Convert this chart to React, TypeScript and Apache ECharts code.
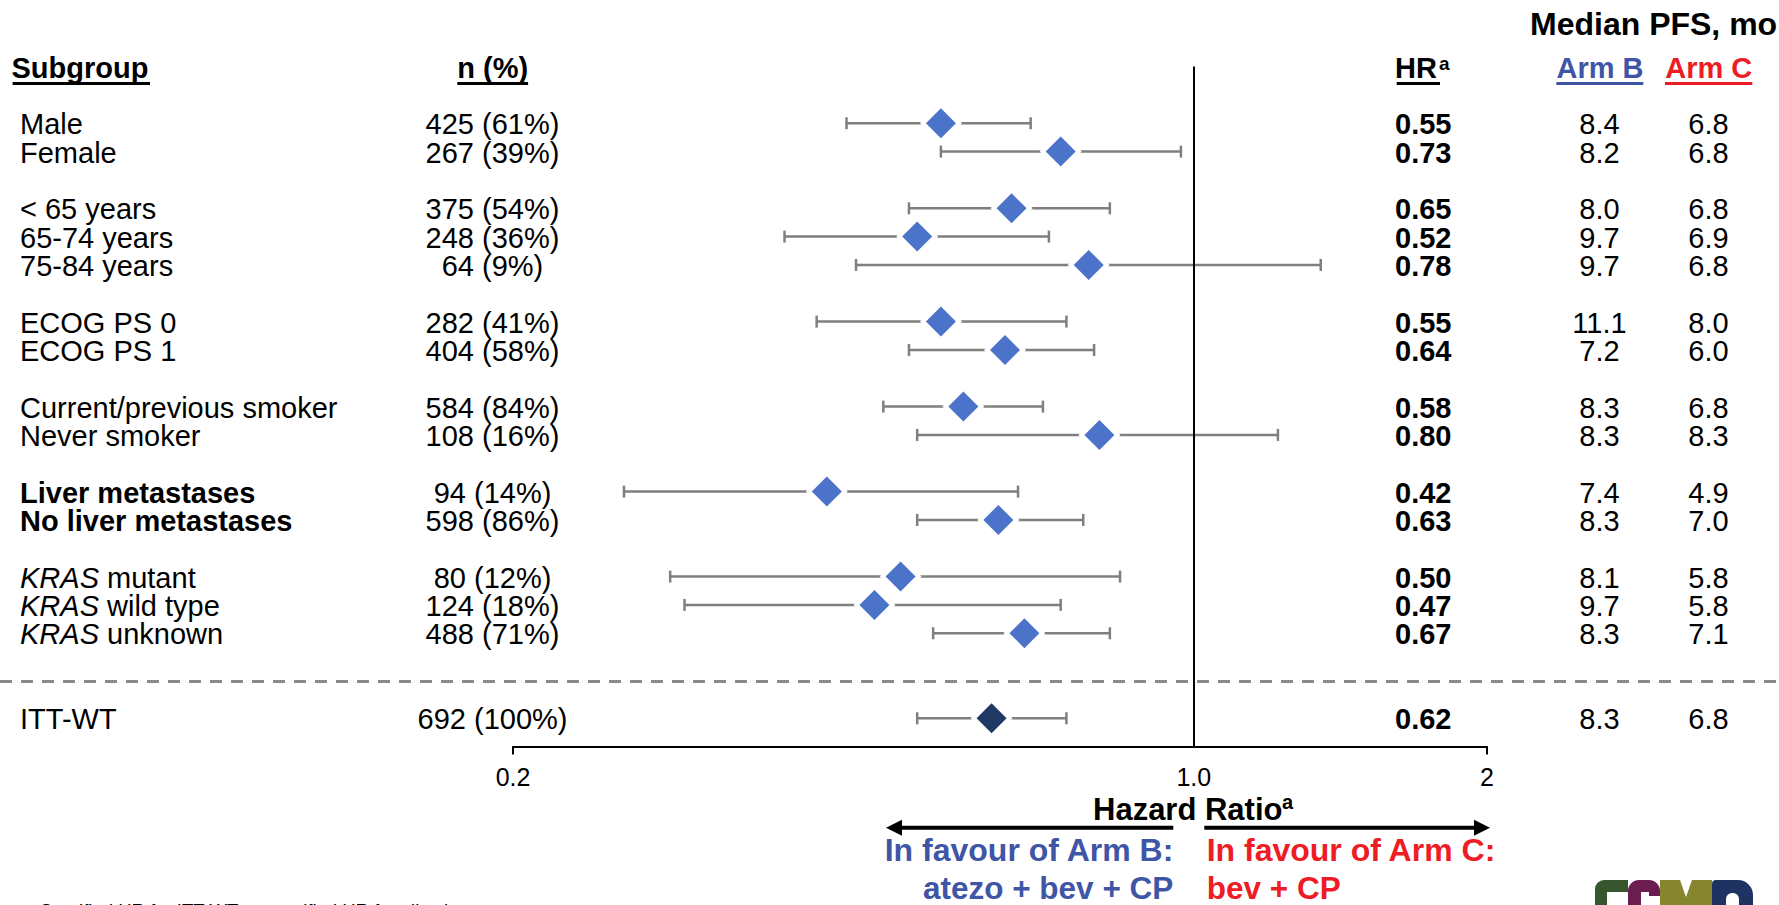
import React, { useEffect, useRef } from 'react';
import * as echarts from 'echarts';

// ---------- data ----------
const subgroups = [
  'Male', 'Female',
  '< 65 years', '65-74 years', '75-84 years',
  'ECOG PS 0', 'ECOG PS 1',
  'Current/previous smoker', 'Never smoker',
  'Liver metastases', 'No liver metastases',
  'KRAS mutant', 'KRAS wild type', 'KRAS unknown',
  'ITT-WT',
];
// row slot of each subgroup on the (inverted) y axis; gaps separate the groups
const rowPositions = [0, 1, 3, 4, 5, 7, 8, 10, 11, 13, 14, 16, 17, 18, 21];
const nLabels = [
  '425 (61%)', '267 (39%)', '375 (54%)', '248 (36%)', '64 (9%)', '282 (41%)', '404 (58%)',
  '584 (84%)', '108 (16%)', '94 (14%)', '598 (86%)', '80 (12%)', '124 (18%)', '488 (71%)', '692 (100%)',
];
const hazardRatios = [0.55, 0.73, 0.65, 0.52, 0.78, 0.55, 0.64, 0.58, 0.80, 0.42, 0.63, 0.50, 0.47, 0.67, 0.62];
const ciLower = [0.44, 0.55, 0.51, 0.38, 0.45, 0.41, 0.51, 0.48, 0.52, 0.26, 0.52, 0.29, 0.30, 0.54, 0.52];
const ciUpper = [0.68, 0.97, 0.82, 0.71, 1.35, 0.74, 0.79, 0.70, 1.22, 0.66, 0.77, 0.84, 0.73, 0.82, 0.74];
const medianPfsArmB = [8.4, 8.2, 8.0, 9.7, 9.7, 11.1, 7.2, 8.3, 8.3, 7.4, 8.3, 8.1, 9.7, 8.3, 8.3];
const medianPfsArmC = [6.8, 6.8, 6.8, 6.9, 6.8, 8.0, 6.0, 6.8, 8.3, 4.9, 7.0, 5.8, 5.8, 7.1, 6.8];
const xTickValues = [0.2, 1, 2];
const xTickLabels = ['0.2', '1.0', '2'];
const xEndTicks = [0.2, 2];
const separatorPosition = 19.7;
const totalRowLabel = 'ITT-WT';

// ---------- styles ----------
const FONT = '"Liberation Sans", Arial, Helvetica, sans-serif';
const BLUE_TEXT = '#3F55A6';
const RED_TEXT = '#EE1C25';
const DIAMOND = '#4A73C9';
const DIAMOND_TOTAL = '#1F3864';
const CI_COLOR = '#7F7F7F';
const BOLD_ROWS = new Set(['Liver metastases', 'No liver metastases']);

export default function App() {
  const ref = useRef<HTMLDivElement>(null);

  useEffect(() => {
    const el = ref.current;
    if (!el) return;
    document.body.style.margin = '0';
    const chart = echarts.init(el, null, { renderer: 'svg' });

    const rowData = subgroups.map((_, i) => [hazardRatios[i], rowPositions[i], i]);

    const renderRow = (params: any, api: any) => {
      const i = api.value(2);
      const pos = api.value(1);
      const y = api.coord([1, pos])[1];
      const xl = api.coord([ciLower[i], pos])[0];
      const xh = api.coord([ciUpper[i], pos])[0];
      const ty = y + 1;
      const label = subgroups[i];
      const txt = (x: number, text: string, align: string, weight = 'normal', extra: any = {}) => ({
        type: 'text',
        x,
        y: ty,
        style: {
          text,
          fontSize: 29,
          lineHeight: 26,
          fontFamily: FONT,
          fontWeight: weight,
          fill: '#000',
          align,
          verticalAlign: 'middle',
          ...extra,
        },
      });
      let labelEl: any;
      if (label.startsWith('KRAS ')) {
        labelEl = txt(20, '{it|KRAS}' + label.slice(4), 'left', 'normal', {
          rich: { it: { fontStyle: 'italic', fontSize: 29, lineHeight: 26, fontFamily: FONT, fill: '#000' } },
        });
      } else {
        labelEl = txt(20, label, 'left', BOLD_ROWS.has(label) ? 'bold' : 'normal');
      }
      const lineStyle = { stroke: CI_COLOR, lineWidth: 2.5 };
      return {
        type: 'group',
        children: [
          { type: 'line', shape: { x1: xl, y1: y, x2: xh, y2: y }, style: lineStyle },
          { type: 'line', shape: { x1: xl, y1: y - 6, x2: xl, y2: y + 6 }, style: lineStyle },
          { type: 'line', shape: { x1: xh, y1: y - 6, x2: xh, y2: y + 6 }, style: lineStyle },
          labelEl,
          txt(492.5, nLabels[i], 'center'),
          txt(1395, hazardRatios[i].toFixed(2), 'left', 'bold'),
          txt(1599.5, medianPfsArmB[i].toFixed(1), 'center'),
          txt(1708.5, medianPfsArmC[i].toFixed(1), 'center'),
        ],
      };
    };

    const renderSeparator = (params: any, api: any) => {
      const y = api.coord([1, api.value(1)])[1];
      return {
        type: 'line',
        shape: { x1: 0, y1: y, x2: api.getWidth(), y2: y },
        style: { stroke: '#8A8A8A', lineWidth: 3, lineDash: [12, 9] },
      };
    };

    const diamondData = subgroups.map((name, i) => ({
      value: [hazardRatios[i], rowPositions[i]],
      itemStyle: { color: name === totalRowLabel ? DIAMOND_TOTAL : DIAMOND, opacity: 1 },
    }));
    const haloData = subgroups.map((_, i) => [hazardRatios[i], rowPositions[i]]);

    const headText = (x: number, y: number, text: string, opts: any = {}) => ({
      type: 'text',
      x,
      y,
      silent: true,
      style: {
        text,
        fontSize: 29,
        fontFamily: FONT,
        fontWeight: 'bold',
        fill: '#000',
        align: 'left',
        verticalAlign: 'middle',
        ...opts,
      },
    });
    const hLine = (x1: number, x2: number, y: number, stroke = '#000', lineWidth = 3) => ({
      type: 'line',
      silent: true,
      shape: { x1, y1: y, x2, y2: y },
      style: { stroke, lineWidth },
    });
    const block = (x: number, y: number, width: number, height: number, fill: string, r: any = 0) => ({
      type: 'rect',
      silent: true,
      shape: { x, y, width, height, r },
      style: { fill },
    });

    const option: any = {
      animation: false,
      backgroundColor: '#fff',
      grid: { left: 513, right: 292, top: 66.6, bottom: 158.4, containLabel: false },
      xAxis: {
        type: 'log',
        logBase: 10,
        min: 0.2,
        max: 2,
        axisLine: { show: true, onZero: false, lineStyle: { color: '#000', width: 2 } },
        axisTick: { show: true, customValues: xEndTicks, length: 8, lineStyle: { color: '#000', width: 2 } },
        minorTick: { show: false },
        axisLabel: {
          customValues: xTickValues,
          formatter: (v: number) => {
            const k = xTickValues.findIndex((t) => Math.abs(t - v) < 1e-6);
            return k >= 0 ? xTickLabels[k] : '';
          },
          fontSize: 25,
          fontFamily: FONT,
          color: '#000',
          margin: 18,
        },
        splitLine: { show: false },
      },
      yAxis: { type: 'value', inverse: true, min: -2, max: 22, show: false },
      graphic: [
        // column headers
        headText(11.5, 68, 'Subgroup'),
        hLine(12.6, 150, 83.5),
        headText(492.7, 68, 'n (%)', { align: 'center' }),
        hLine(457.3, 528.1, 83.5),
        headText(1395, 68, 'HR'),
        headText(1439, 63, 'a', { fontSize: 19, lineHeight: 16 }),
        hLine(1396.7, 1440, 83.5),
        headText(1530, 24, 'Median PFS, mo', { fontSize: 32 }),
        headText(1600, 68, 'Arm B', { align: 'center', fill: BLUE_TEXT }),
        hLine(1556.3, 1643.3, 83.5, BLUE_TEXT),
        headText(1708.7, 68, 'Arm C', { align: 'center', fill: RED_TEXT }),
        hLine(1665, 1752.3, 83.5, RED_TEXT),
        // axis title
        headText(1093, 809, 'Hazard Ratio', { fontSize: 31 }),
        headText(1282, 802, 'a', { fontSize: 20, lineHeight: 16 }),
        // arrows
        hLine(897, 1173.3, 827.7, '#000', 4),
        {
          type: 'polygon',
          silent: true,
          shape: { points: [[886, 827.7], [902, 819.7], [902, 835.7]] },
          style: { fill: '#000' },
        },
        hLine(1204.3, 1479, 827.7, '#000', 4),
        {
          type: 'polygon',
          silent: true,
          shape: { points: [[1490, 827.7], [1474, 819.7], [1474, 835.7]] },
          style: { fill: '#000' },
        },
        headText(1173.3, 850, 'In favour of Arm B:', { align: 'right', fontSize: 32, fill: BLUE_TEXT }),
        headText(1173.3, 887.5, 'atezo + bev + CP', { align: 'right', fontSize: 31.5, lineHeight: 30, fill: BLUE_TEXT }),
        headText(1206.7, 850, 'In favour of Arm C:', { fontSize: 32, fill: RED_TEXT }),
        headText(1206.7, 887.5, 'bev + CP', { fontSize: 31.5, lineHeight: 30, fill: RED_TEXT }),
        // footnote (cut by the page edge, as in the reference)
        headText(40, 910, 'Stratified HR for ITT-WT; unstratified HR for all subgroups', {
          fontSize: 18.5,
          fontWeight: 'normal',
        }),
        // logo, only its top visible at the page edge (drawn as shapes)
        block(1595, 880, 33, 12, '#37562E', [9, 0, 0, 0]),
        block(1595, 891, 12, 15, '#37562E'),
        block(1628, 880, 32, 12, '#6B1D4F', [11, 11, 0, 0]),
        block(1628, 891, 13, 15, '#6B1D4F'),
        block(1649, 891, 11, 5, '#6B1D4F'),
        block(1660, 880, 52, 26, '#86862F'),
        {
          type: 'polygon',
          silent: true,
          shape: { points: [[1680, 880], [1692, 880], [1686, 897]] },
          style: { fill: '#fff' },
        },
        block(1712, 880, 41, 26, '#1E3361', [4, 15, 0, 0]),
        block(1726, 893, 13, 13, '#fff', [6, 6, 0, 0]),
      ],
      series: [
        {
          type: 'custom',
          name: 'rows',
          data: rowData,
          renderItem: renderRow,
          z: 2,
          silent: true,
          clip: false,
        },
        {
          type: 'custom',
          name: 'separator',
          data: [[1, separatorPosition]],
          renderItem: renderSeparator,
          z: 1,
          silent: true,
          clip: false,
        },
        {
          type: 'scatter',
          name: 'halo',
          data: haloData,
          symbol: 'diamond',
          symbolSize: 42,
          itemStyle: { color: '#fff', opacity: 1 },
          z: 3,
          silent: true,
        },
        {
          type: 'scatter',
          name: 'HR',
          data: diamondData,
          symbol: 'diamond',
          symbolSize: 30,
          itemStyle: { opacity: 1 },
          z: 4,
          silent: true,
          markLine: {
            silent: true,
            symbol: ['none', 'none'],
            label: { show: false },
            lineStyle: { color: '#000', width: 2, type: 'solid' },
            data: [{ xAxis: 1 }],
          },
        },
      ],
    };

    chart.setOption(option);
    return () => chart.dispose();
  }, []);

  return (
    <div
      ref={ref}
      style={{ position: 'fixed', left: 0, top: 0, width: 1779, height: 905, background: '#fff' }}
    />
  );
}
